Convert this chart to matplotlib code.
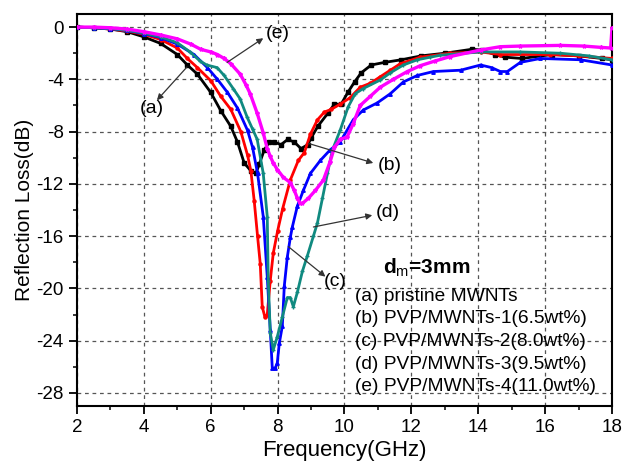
import matplotlib
matplotlib.use("Agg")
import matplotlib.pyplot as plt
from matplotlib.ticker import MultipleLocator

plt.rcParams['font.family'] = ['Liberation Sans', 'DejaVu Sans']
plt.rcParams['axes.unicode_minus'] = False
plt.rcParams['mathtext.fontset'] = 'custom'
plt.rcParams['mathtext.rm'] = 'Liberation Sans'
plt.rcParams['mathtext.bf'] = 'Liberation Sans:bold'

# (a) pristine MWNTs - black
fa = [2.0, 2.5, 3.0, 3.5, 4.0, 4.5, 5.0, 5.3, 5.6, 6.0, 6.3, 6.6, 6.8, 7.0, 7.2, 7.35, 7.45,
      7.6, 7.75, 7.9, 8.1, 8.3, 8.5, 8.7, 8.9, 9.0, 9.2, 9.5, 9.7, 9.9, 10.1, 10.3, 10.5, 10.8,
      11.2, 11.7, 12.3, 13.0, 13.8, 14.1, 14.5, 14.8, 15.3, 16.2, 17.0, 17.7, 18.0]
ra = [0.0, -0.05, -0.15, -0.35, -0.75, -1.25, -2.1, -2.9, -3.6, -5.0, -6.4, -7.6, -8.8, -10.4,
      -11.0, -11.2, -10.5, -9.4, -8.8, -8.8, -9.0, -8.6, -8.8, -9.3, -9.0, -8.5, -7.6, -6.6,
      -5.9, -5.9, -5.0, -4.2, -3.5, -2.9, -2.7, -2.5, -2.2, -2.0, -1.7, -1.75, -2.1, -2.3, -2.4,
      -2.1, -2.2, -2.4, -2.5]

# (b) PVP/MWNTs-1 - red
fb = [2.0, 2.5, 3.0, 3.5, 4.0, 4.5, 5.0, 5.3, 5.6, 6.0, 6.3, 6.6, 6.9, 7.1, 7.2, 7.3, 7.4,
      7.48, 7.54, 7.62, 7.69, 7.78, 7.87, 8.0, 8.15, 8.38, 8.62, 8.8, 8.98, 9.19, 9.4, 9.6,
      9.87, 10.17, 10.47, 10.77, 11.07, 11.37, 11.67, 12.27, 13.17, 14.07, 14.66, 16.16, 17.0, 18.0]
rb = [0.0, -0.05, -0.15, -0.3, -0.55, -0.95, -1.6, -2.4, -3.1, -4.1, -5.3, -6.3, -8.0, -9.8,
      -11.0, -13.3, -16.0, -18.1, -21.4, -22.2, -22.0, -19.4, -17.3, -15.6, -13.9, -11.7, -10.2,
      -9.6, -8.2, -7.1, -6.5, -6.3, -5.9, -5.4, -4.6, -4.3, -3.8, -3.3, -2.8, -2.3, -2.0, -1.9,
      -2.1, -2.1, -2.2, -2.4]

# (c) PVP/MWNTs-2 - blue
fc = [2.0, 2.5, 3.0, 3.5, 4.0, 4.5, 5.0, 5.5, 5.9, 6.2, 6.5, 6.8, 7.1, 7.25, 7.4, 7.57, 7.69,
      7.78, 7.84, 7.93, 7.99, 8.05, 8.14, 8.2, 8.29, 8.38, 8.44, 8.59, 8.77, 8.98, 9.28, 9.57,
      9.87, 9.96, 10.26, 10.56, 10.98, 11.37, 11.76, 12.18, 12.66, 13.47, 14.07, 14.4, 14.66,
      14.87, 15.26, 15.86, 17.06, 18.0]
rc = [0.0, -0.05, -0.12, -0.25, -0.5, -0.8, -1.3, -2.1, -3.1, -4.0, -5.0, -6.2, -7.9, -9.2,
      -11.2, -14.5, -19.1, -23.2, -26.1, -26.1, -25.7, -24.2, -22.9, -19.8, -17.6, -16.1, -15.3,
      -13.7, -12.5, -11.2, -10.2, -9.4, -8.8, -8.4, -7.1, -6.35, -5.8, -5.1, -4.2, -3.7, -3.4,
      -3.3, -2.9, -3.1, -3.4, -3.4, -2.7, -2.4, -2.5, -2.9]

# (d) PVP/MWNTs-3 - teal
fd = [2.0, 2.5, 3.0, 3.5, 4.0, 4.5, 5.0, 5.38, 5.68, 5.88, 6.19, 6.4, 6.67, 6.88, 7.09, 7.25,
      7.39, 7.57, 7.69, 7.72, 7.78, 7.87, 7.99, 8.14, 8.29, 8.38, 8.47, 8.59, 8.74, 8.89, 9.07,
      9.19, 9.34, 9.49, 9.64, 9.87, 10.11, 10.32, 10.56, 11.07, 11.37, 11.76, 12.18, 12.57,
      12.87, 14.07, 15.26, 16.46, 17.3, 18.0]
rd = [0.0, -0.05, -0.1, -0.25, -0.45, -0.75, -1.2, -1.9, -2.6, -2.9, -3.1, -3.7, -4.7, -5.5,
      -6.9, -7.8, -8.6, -11.2, -14.5, -19.4, -23.4, -24.7, -23.7, -22.2, -20.7, -20.7, -21.4,
      -20.3, -18.7, -17.5, -16.0, -15.0, -13.1, -11.2, -9.4, -7.9, -6.1, -5.1, -4.7, -4.05,
      -3.5, -2.9, -2.5, -2.3, -2.15, -1.9, -1.9, -2.0, -2.2, -2.5]

# (e) PVP/MWNTs-4 - magenta
fe = [2.0, 2.5, 3.0, 3.5, 4.0, 4.5, 5.0, 5.4, 5.7, 6.0, 6.2, 6.4, 6.6, 6.88, 7.05, 7.18, 7.39,
      7.57, 7.69, 7.78, 7.87, 7.99, 8.17, 8.38, 8.5, 8.59, 8.68, 8.74, 8.92, 9.13, 9.37, 9.57,
      9.7, 9.87, 10.08, 10.26, 10.47, 10.77, 11.07, 11.46, 11.88, 12.27, 12.7, 13.17, 14.07,
      14.66, 15.26, 16.46, 17.15, 17.66, 17.96, 18.0]
re = [0.0, 0.0, -0.05, -0.15, -0.35, -0.6, -0.9, -1.3, -1.7, -1.9, -2.1, -2.4, -2.8, -3.6,
      -4.4, -5.1, -6.6, -8.1, -9.3, -9.9, -10.4, -10.9, -11.5, -11.9, -12.5, -13.1, -13.5,
      -13.5, -13.1, -12.5, -11.7, -10.3, -9.2, -8.6, -8.4, -7.4, -6.0, -5.3, -4.6, -4.0, -3.4,
      -2.95, -2.6, -2.25, -1.75, -1.5, -1.45, -1.4, -1.45, -1.55, -1.6, -0.1]

legend_lines = ["(a) pristine MWNTs", "(b) PVP/MWNTs-1(6.5wt%)", "(c) PVP/MWNTs-2(8.0wt%)",
                "(d) PVP/MWNTs-3(9.5wt%)", "(e) PVP/MWNTs-4(11.0wt%)"]

fig = plt.figure(figsize=(6.22, 4.68), dpi=100)
ax = fig.add_axes([0.1238, 0.1325, 0.8601, 0.8375])

ax.plot(fa, ra, color='black', lw=2.0, marker='s', ms=2.2, zorder=3)
ax.plot(fb, rb, color='#ff0000', lw=2.0, marker='o', ms=2.2, zorder=3)
ax.plot(fc, rc, color='#0000ff', lw=2.0, marker='^', ms=2.5, zorder=3)
ax.plot(fd, rd, color='#108a80', lw=2.0, marker='+', ms=3, zorder=3)
ax.plot(fe, re, color='#ff00ff', lw=2.4, marker='*', ms=3, zorder=3)

ax.set_xlim(2, 18)
ax.set_ylim(-29, 1)
ax.xaxis.set_major_locator(MultipleLocator(2))
ax.xaxis.set_minor_locator(MultipleLocator(1))
ax.yaxis.set_major_locator(MultipleLocator(4))
ax.yaxis.set_minor_locator(MultipleLocator(2))
ax.grid(True, which='major', color='#555555', linestyle=(0, (3, 3)), linewidth=0.9, zorder=0)
ax.tick_params(which='major', direction='out', length=6, width=1.3, labelsize=13.5)
ax.tick_params(which='minor', direction='out', length=3, width=1.1)
for s in ax.spines.values():
    s.set_linewidth(1.5)

ax.set_xlabel("Frequency(GHz)", fontsize=16, labelpad=3)
ax.set_ylabel("Reflection Loss(dB)", fontsize=15, labelpad=2)

ap = dict(arrowstyle='-|>', color='#333333', lw=0.9, mutation_scale=9, shrinkA=0, shrinkB=0)
# (label text, label position, arrow start on curve, arrow head)
annots = [("(a)", (4.25, -6.2), (5.29, -3.05), (4.39, -5.6)),
          ("(e)", (7.99, -0.5), (6.49, -2.7), (7.57, -0.85)),
          ("(b)", (11.34, -10.6), (8.92, -8.9), (10.86, -10.4)),
          ("(d)", (11.31, -14.2), (9.07, -15.3), (10.83, -14.4)),
          ("(c)", (9.72, -19.5), (8.32, -16.8), (9.43, -19.1))]
for lab, lpos, start, head in annots:
    ax.annotate("", xy=head, xytext=start, arrowprops=ap, zorder=5)
    ax.text(lpos[0], lpos[1], lab, fontsize=14, ha='center', va='center', zorder=5)

ax.text(11.16, -18.4, r"$\mathbf{d}_\mathrm{m}$" + "=3mm", fontsize=15, fontweight='bold',
        ha='left', va='center')
for i, s in enumerate(legend_lines):
    ax.text(10.32, -20.6 - 1.73 * i, s, fontsize=13.8, ha='left', va='center')

fig.savefig("out.png", dpi=100)
